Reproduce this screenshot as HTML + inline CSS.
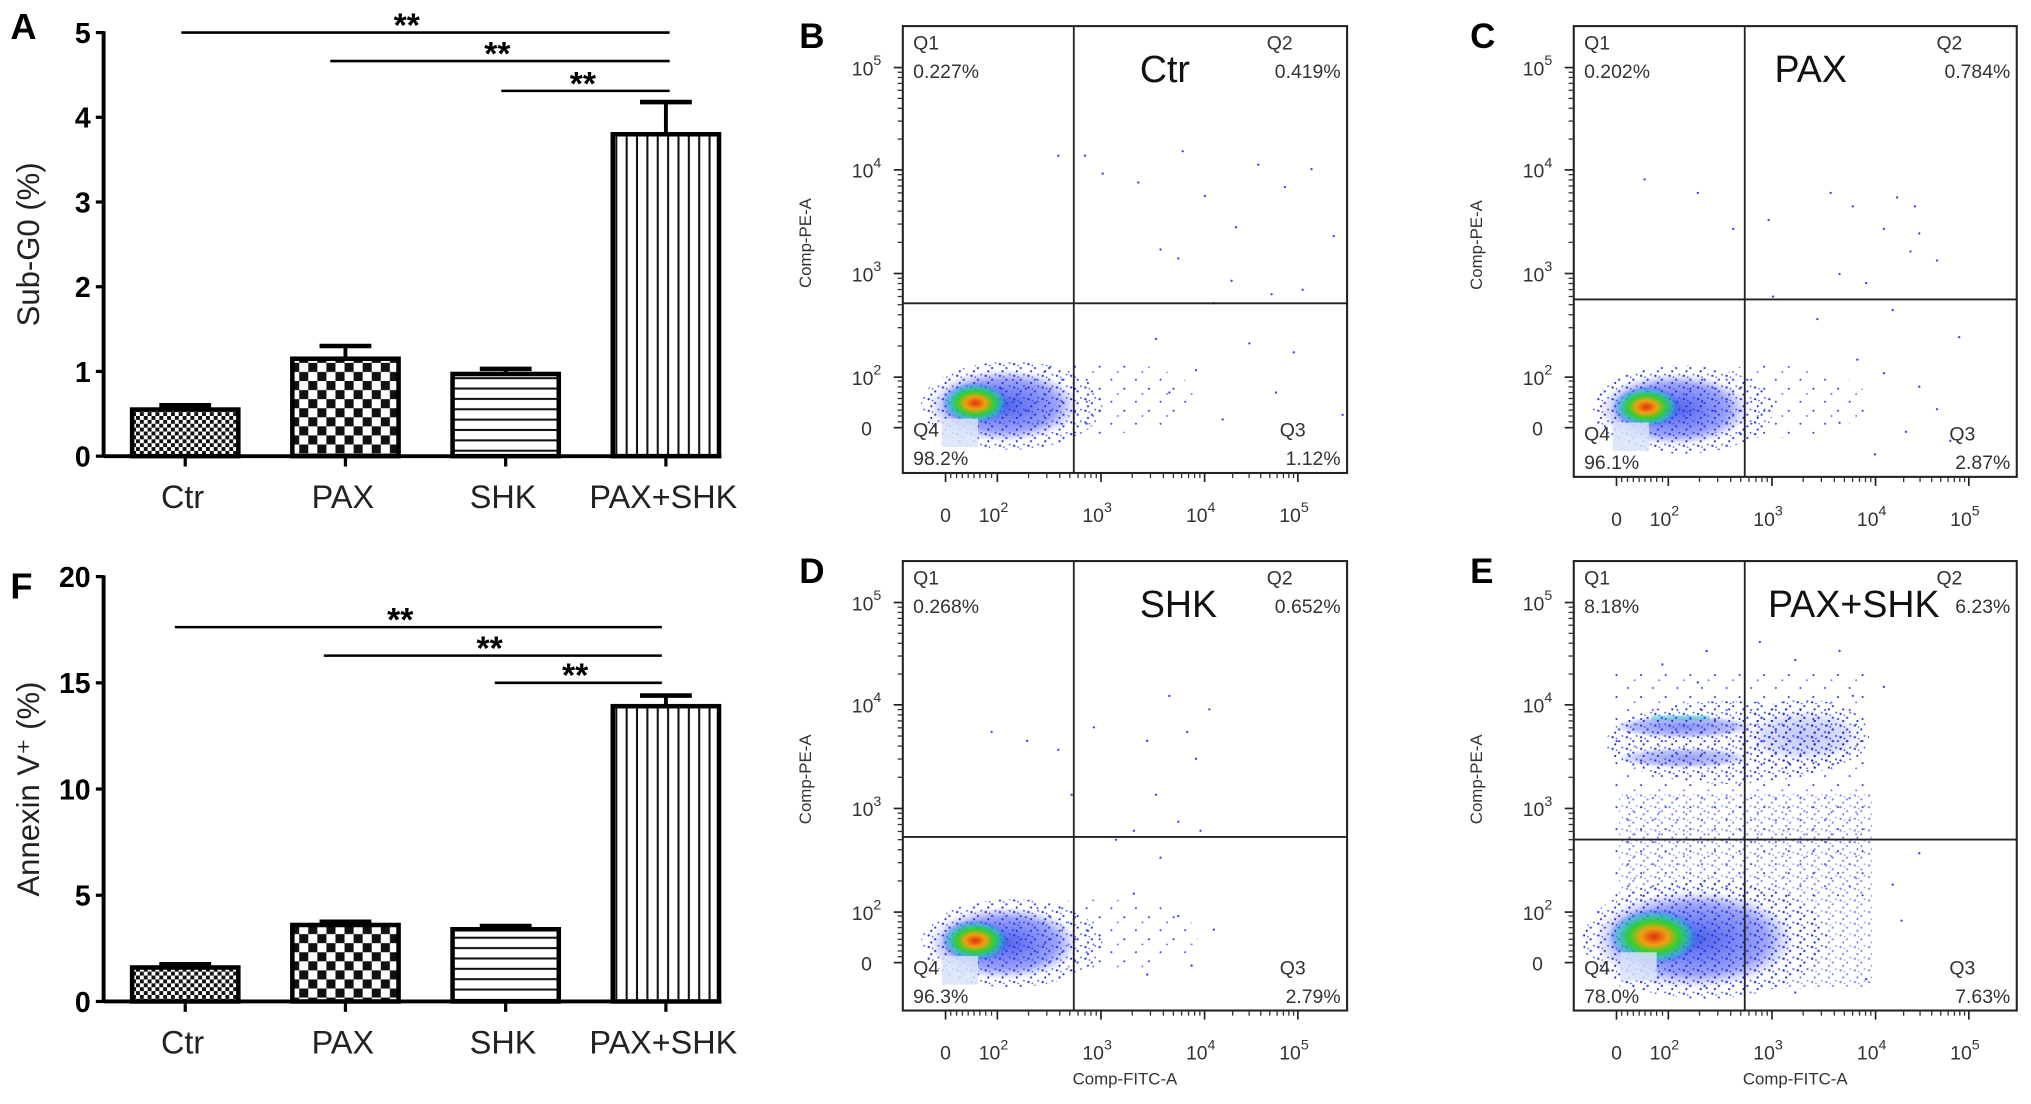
<!DOCTYPE html>
<html><head><meta charset="utf-8"><title>Apoptosis figure</title>
<style>html,body{margin:0;padding:0;background:#fff;}svg{display:block;}</style></head>
<body>
<svg id="fig" xmlns="http://www.w3.org/2000/svg" width="2031" height="1104" viewBox="0 0 1568 852" font-family="Liberation Sans, sans-serif">
<defs>
<pattern id="pCtr" width="6" height="6" patternUnits="userSpaceOnUse"><rect width="6" height="6" fill="#fff"/><rect width="3" height="3" fill="#111"/><rect x="3" y="3" width="3" height="3" fill="#111"/></pattern>
<pattern id="pPax" width="14" height="14" patternUnits="userSpaceOnUse"><rect width="14" height="14" fill="#fff"/><rect width="7" height="7" fill="#111"/><rect x="7" y="7" width="7" height="7" fill="#111"/></pattern>
<pattern id="pShk" width="8" height="8" patternUnits="userSpaceOnUse"><rect width="8" height="8" fill="#fff"/><rect y="3" width="8" height="1.6" fill="#111"/></pattern>
<pattern id="pCom" width="8" height="8" patternUnits="userSpaceOnUse"><rect width="8" height="8" fill="#fff"/><rect x="3" width="1.6" height="8" fill="#111"/></pattern>
<pattern id="dots" width="11" height="9" patternUnits="userSpaceOnUse"><circle cx="2" cy="2" r="0.9" fill="#2233ee"/><circle cx="7" cy="5" r="0.9" fill="#3344ff"/><circle cx="4" cy="7.5" r="0.8" fill="#1122cc"/><circle cx="9.5" cy="1" r="0.7" fill="#4455ff"/><circle cx="5" cy="3" r="0.6" fill="#2a3aee"/></pattern>
<pattern id="sparse" width="19" height="17" patternUnits="userSpaceOnUse"><circle cx="3" cy="4" r="0.8" fill="#3344ff"/><circle cx="13" cy="11" r="0.8" fill="#2233dd"/><circle cx="8" cy="15" r="0.7" fill="#5566ff"/></pattern>
<radialGradient id="gCore"><stop offset="0" stop-color="#e03010"/><stop offset="0.3" stop-color="#f0a010"/><stop offset="0.55" stop-color="#30d030"/><stop offset="0.8" stop-color="#20c0c0" stop-opacity="0.6"/><stop offset="1" stop-color="#2040ff" stop-opacity="0"/></radialGradient>
<radialGradient id="gBlue"><stop offset="0" stop-color="#1530e0" stop-opacity="0.75"/><stop offset="0.7" stop-color="#2030f0" stop-opacity="0.45"/><stop offset="1" stop-color="#3040ff" stop-opacity="0"/></radialGradient>
</defs>
<g id="barA"></g>
<g id="barF"></g>
<g id="flows"></g>
</svg>
<script>
const NS='http://www.w3.org/2000/svg';
const categories=['Ctr','PAX','SHK','PAX+SHK'];
const subG0Values=[0.55,1.15,0.97,3.8];
const subG0Errors=[0.05,0.15,0.06,0.38];
const subG0Ticks=[0,1,2,3,4,5];
const annexinValues=[1.6,3.6,3.4,13.9];
const annexinErrors=[0.15,0.15,0.15,0.5];
const annexinTicks=[0,5,10,15,20];
const fills=['url(#pCtr)','url(#pPax)','url(#pShk)','url(#pCom)'];

function el(tag,attrs,parent,text){const e=document.createElementNS(NS,tag);for(const k in attrs)e.setAttribute(k,attrs[k]);if(text!==undefined)e.textContent=text;parent.appendChild(e);return e;}

function barChart(g,cfg){
  const {top,bottom,max,letter,letterY,title,vals,errs,ticks,sig}=cfg;
  const ax=80, xEnd=557;
  const y=v=>bottom-(v/max)*(bottom-top);
  const xc=i=>143+i*123.7;
  const L=el('text',{x:8,y:letterY,'font-size':28,'font-weight':'bold'},g,letter);
  
  const t=el('text',{transform:`translate(30,${(top+bottom)/2}) rotate(-90)`,'text-anchor':'middle','font-size':24,fill:'#222'},g,title);
  
  ticks.forEach(v=>{
    el('line',{x1:ax-6,x2:ax,y1:y(v),y2:y(v),stroke:'#000','stroke-width':2.5},g);
    const tl=el('text',{x:ax-10,y:y(v)+8,'text-anchor':'end','font-size':22,'font-weight':'bold'},g,v);
    
  });
  vals.forEach((v,i)=>{
    const cx=xc(i);
    const r=el('rect',{x:cx-41,y:y(v),width:82,height:bottom-y(v),fill:fills[i],stroke:'#000','stroke-width':3.5},g);
    
    
    el('line',{x1:cx,x2:cx,y1:y(v),y2:y(v+errs[i]),stroke:'#000','stroke-width':3},g);
    const cap=el('line',{x1:cx-20,x2:cx+20,y1:y(v+errs[i]),y2:y(v+errs[i]),stroke:'#000','stroke-width':3.5},g);
    
    el('line',{x1:cx,x2:cx,y1:bottom,y2:bottom+8,stroke:'#000','stroke-width':2.5},g);
    const cl=el('text',{x:cx-2,y:bottom+40,'text-anchor':'middle','font-size':25,fill:'#222'},g,categories[i]);
    
  });
  el('line',{x1:ax,x2:ax,y1:top-1,y2:bottom+1,stroke:'#000','stroke-width':3},g);
  el('line',{x1:ax,x2:xEnd,y1:bottom,y2:bottom,stroke:'#000','stroke-width':3},g);
  sig.forEach(s=>{
    const ln=el('line',{x1:s[0],x2:s[1],y1:s[2],y2:s[2],stroke:'#000','stroke-width':2},g);
    
    const st=el('text',{x:s[3],y:s[2]+3,'text-anchor':'middle','font-size':26,'font-weight':'bold'},g,'**');
    
  });
}
barChart(document.getElementById('barA'),{top:25,bottom:352,max:5,letter:'A',letterY:30,title:'Sub-G0 (%)',vals:subG0Values,errs:subG0Errors,ticks:subG0Ticks,
  sig:[[140,517,25,314],[255,517,47,384],[387,517,70,450]]});
barChart(document.getElementById('barF'),{top:445,bottom:773,max:20,letter:'F',letterY:462,title:'Annexin V⁺ (%)',vals:annexinValues,errs:annexinErrors,ticks:annexinTicks,
  sig:[[135,511,484,309],[250,511,506,378],[382,511,527,444]]});

const panelNames=['Ctr','PAX','SHK','PAX+SHK'];
const panelLetters=['B','C','D','E'];
const q1Pct=['0.227%','0.202%','0.268%','8.18%'];
const q2Pct=['0.419%','0.784%','0.652%','6.23%'];
const q3Pct=['1.12%','2.87%','2.79%','7.63%'];
const q4Pct=['98.2%','96.1%','96.3%','78.0%'];
const decadeLabels=['0','2','3','4','5'];
const eventsB=[[.35,.29],[.41,.29],[.45,.33],[.53,.35],[.63,.28],[.68,.38],[.75,.45],[.8,.31],[.86,.36],[.92,.32],[.58,.5],[.62,.52],[.74,.57],[.7,.62],[.83,.6],[.9,.59],[.97,.47],[.57,.7],[.66,.77],[.78,.71],[.88,.73],[.99,.87],[.6,.82],[.72,.88],[.84,.82]];
const eventsC=[[.16,.34],[.28,.37],[.36,.45],[.44,.43],[.58,.37],[.63,.4],[.7,.45],[.73,.38],[.77,.4],[.78,.46],[.76,.5],[.82,.52],[.6,.55],[.66,.57],[.45,.6],[.55,.65],[.72,.63],[.87,.69],[.64,.74],[.7,.77],[.78,.8],[.82,.85],[.6,.88],[.75,.9],[.85,.92],[.68,.95]];
const eventsD=[[.2,.38],[.28,.4],[.35,.42],[.43,.37],[.55,.4],[.6,.3],[.64,.38],[.66,.44],[.69,.33],[.57,.52],[.62,.58],[.52,.6],[.67,.6],[.58,.66],[.52,.74],[.62,.79],[.7,.82],[.65,.9],[.55,.92],[.48,.62],[.38,.52]];
const eventsE=[[.2,.23],[.28,.27],[.3,.2],[.42,.18],[.5,.22],[.6,.2],[.63,.3],[.7,.28],[.72,.72],[.74,.8],[.78,.65],[.3,.95],[.5,.96],[.66,.93]];
const panelEvents=[eventsB,eventsC,eventsD,eventsE];
const boxes=[[697,20,1040,365,829,234],[1215,20,1557,368,1347,231],[697,433,1040,780,829,646],[1215,433,1557,780,1347,648]];
const root=document.getElementById('flows');

function sup(g,x,y,exp,name){
  const t=el('text',{x:x,y:y,'font-size':15,'text-anchor':'middle',fill:'#333'},g);
  
  if(exp==='0'){t.textContent='0';return;}
  el('tspan',{},t,'10');el('tspan',{dy:-8,'font-size':11},t,exp);
}
panelNames.forEach((name,p)=>{
  const [x0,y0,x1,y1,qx,qy]=boxes[p];
  const W=x1-x0,H=y1-y0;
  const g=el('g',{},root);
  
  
  const L=el('text',{x:x0-80,y:y0+17,'font-size':27,'font-weight':'bold'},g,panelLetters[p]);
  
  const cx=x0+(p===3?58:52), cy=y1-(p===3?55:52);
  const big=p===3?1.35:1;
  if(p===3){
    el('rect',{x:x0+30,y:y0+85,width:200,height:175,fill:'url(#sparse)'},g);
    el('rect',{x:x0+35,y:y0+180,width:195,height:150,fill:'url(#dots)',opacity:0.6},g);
    el('ellipse',{cx:x0+85,cy:y0+128,rx:55,ry:9,fill:'url(#gBlue)',opacity:0.7},g);
    el('ellipse',{cx:x0+85,cy:y0+152,rx:52,ry:8,fill:'url(#gBlue)',opacity:0.6},g);
    el('rect',{x:x0+60,y:y0+119,width:45,height:4,fill:'#20c0c0',opacity:0.4},g);
    el('ellipse',{cx:x0+178,cy:y0+135,rx:50,ry:28,fill:'url(#dots)'},g);
    el('ellipse',{cx:x0+178,cy:y0+135,rx:45,ry:20,fill:'url(#gBlue)',opacity:0.35},g);
    el('ellipse',{cx:x0+120,cy:y0+140,rx:95,ry:32,fill:'url(#dots)'},g);
  } else {
    el('ellipse',{cx:x0+150,cy:y1-58,rx:78,ry:28,fill:'url(#sparse)'},g);
  }
  el('ellipse',{cx:cx+32*big,cy:cy,rx:70*big,ry:34*big,fill:'url(#dots)'},g);
  el('ellipse',{cx:cx+26*big,cy:cy,rx:58*big,ry:28*big,fill:'url(#gBlue)'},g);
  el('ellipse',{cx:cx+4,cy:cy-2,rx:26*big,ry:16*big,fill:'url(#gCore)'},g);
  el('rect',{x:cx-22,y:cy+10,width:28,height:22,fill:'#d8e4f8',opacity:0.85},g);
  panelEvents[p].forEach(e=>{
    const d=el('circle',{cx:x0+e[0]*W,cy:y0+e[1]*H,r:0.9,fill:'#3344ff'},g);
    
  });
  const bx=el('rect',{x:x0,y:y0,width:W,height:H,fill:'none',stroke:'#222','stroke-width':1.6},g);
  
  const qv=el('line',{x1:qx,x2:qx,y1:y0,y2:y1,stroke:'#222','stroke-width':1.4},g);
  
  const qh=el('line',{x1:x0,x2:x1,y1:qy,y2:qy,stroke:'#222','stroke-width':1.4},g);
  
  const txt=(x,y,s,n,anchor)=>{const t=el('text',{x:x,y:y,'font-size':15,fill:'#333','text-anchor':anchor||'start'},g,s);};
  txt(x0+8,y0+18,'Q1','q1-label');txt(x0+8,y0+40,q1Pct[p],'q1-percent');
  txt(x1-62,y0+18,'Q2','q2-label');txt(x1-5,y0+40,q2Pct[p],'q2-percent','end');
  txt(x1-52,y1-28,'Q3','q3-label');txt(x1-5,y1-6,q3Pct[p],'q3-percent','end');
  txt(x0+8,y1-28,'Q4','q4-label');txt(x0+8,y1-6,q4Pct[p],'q4-percent');
  const tt=el('text',{x:qx+(p===3?18:(p===1?23:51)),y:y0+43,'font-size':29,fill:'#111'},g,name);
  
  const yDec=[y0+310,y0+271,y0+191,y0+111,y0+32];
  decadeLabels.forEach((lab,i)=>{
    el('line',{x1:x0-7,x2:x0,y1:yDec[i],y2:yDec[i],stroke:'#222','stroke-width':1.3},g);
    sup(g,x0-28,yDec[i]+6,lab,'y-tick-label');
    if(i>0&&i<4){for(let k=2;k<10;k++){const yy=yDec[i]-Math.log10(k)*(yDec[i]-yDec[i+1]);el('line',{x1:x0-4,x2:x0,y1:yy,y2:yy,stroke:'#333','stroke-width':1},g);}}
  });
  for(let k=1;k<9;k++)el('line',{x1:x0-4,x2:x0,y1:yDec[0]-k*4.5,y2:yDec[0]-k*4.5,stroke:'#333','stroke-width':1},g);
  const xDec=[x0+33,x0+73,x0+153,x0+233,x0+305];
  decadeLabels.forEach((lab,i)=>{
    el('line',{x1:xDec[i],x2:xDec[i],y1:y1,y2:y1+7,stroke:'#222','stroke-width':1.3},g);
    sup(g,xDec[i]+(i?-3:0),y1+38,lab,'x-tick-label');
    if(i>0&&i<4){for(let k=2;k<10;k++){const xx=xDec[i]+Math.log10(k)*(xDec[i+1]-xDec[i]);el('line',{x1:xx,x2:xx,y1:y1,y2:y1+4,stroke:'#333','stroke-width':1},g);}}
  });
  for(let k=1;k<9;k++)el('line',{x1:xDec[1]-k*4.5,x2:xDec[1]-k*4.5,y1:y1,y2:y1+4,stroke:'#333','stroke-width':1},g);
  const yt=el('text',{transform:`translate(${x0-71},${(y0+y1)/2-5}) rotate(-90)`,'text-anchor':'middle','font-size':13,fill:'#333'},g,'Comp-PE-A');
  
  if(p>=2){const xt=el('text',{x:(x0+x1)/2,y:y1+57,'text-anchor':'middle','font-size':13,fill:'#333'},g,'Comp-FITC-A');
    }
});
</script>
</body></html>
